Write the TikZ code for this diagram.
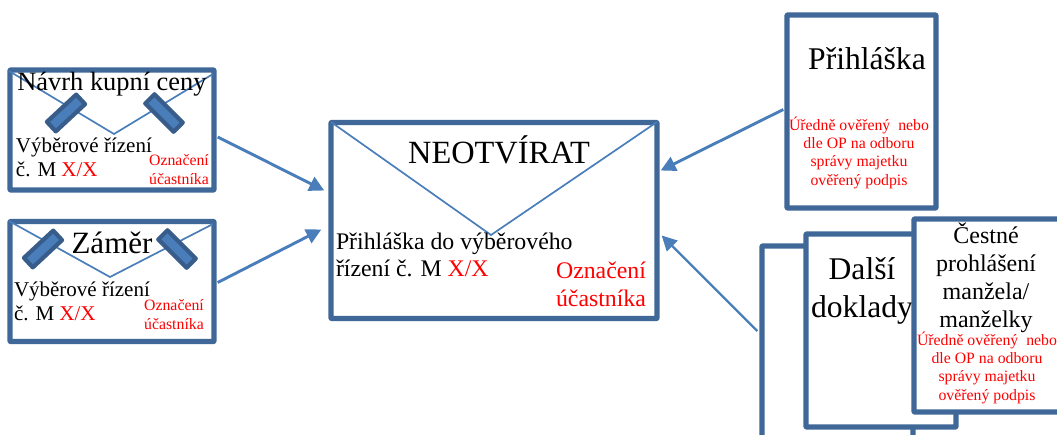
\documentclass[tikz,border=0pt]{standalone}
\usepackage{fontspec}
\setmainfont{Liberation Serif}
\usetikzlibrary{arrows.meta}
\definecolor{boxblue}{HTML}{3F6797}
\definecolor{lineblue}{HTML}{4A7EBB}
\definecolor{sealfill}{HTML}{4A7EBB}
\definecolor{sealline}{HTML}{385D8A}
\newcommand{\fs}[2]{\fontsize{#1pt}{#2pt}\selectfont}
\tikzset{
  x=1pt,y=-1pt,
  frame/.style={draw=boxblue,line width=5.4pt,fill=white,rectangle,inner sep=0pt,line join=round,rounded corners=0.6pt},
  flap/.style={draw=lineblue,line width=1.7pt},
  seal/.style={draw=sealline,fill=sealfill,line width=4.2pt,rectangle,inner sep=0pt,minimum width=40pt,minimum height=13pt,line join=round},
  arr/.style={draw=lineblue,line width=2.9pt,-{Triangle[length=15pt,width=15pt,fill=lineblue]}},
  txt/.style={inner sep=0pt,outer sep=0pt,text=black},
  red/.style={txt,text=red,align=center},
  small/.style={font=\fs{15.8}{18.3}},
}
\begin{document}
\begin{tikzpicture}
\useasboundingbox (0,0) rectangle (1057,434);
% left envelopes
\node[frame,minimum width=204pt,minimum height=120pt] (boxA) at (112,130) {};
\coordinate (aL) at (9,71); \coordinate (aV) at (114,134); \coordinate (aR) at (213,74);
\draw[flap] (aL) -- (aV) -- (aR);
\node[seal,rotate=43] (sealAL) at (66,113) {};
\node[seal,rotate=-45] (sealAR) at (164,113) {};
\node[txt,anchor=base,font=\fs{26.4}{26}] (tA) at (112,90) {Návrh kupní ceny};
\node[txt,anchor=base west,align=left,font=\fs{21}{24}] (subA) at (16,176) {Výběrové řízení\\č. M \textcolor{red}{X/X}};
\node[red,anchor=base,small] (markA) at (179,184) {Označení\\účastníka};

\node[frame,minimum width=204pt,minimum height=120pt] (boxB) at (112,281.5) {};
\coordinate (bL) at (9,221); \coordinate (bV) at (110,277); \coordinate (bR) at (213,224);
\draw[flap] (bL) -- (bV) -- (bR);
\node[seal,rotate=43] (sealBL) at (43,249) {};
\node[seal,rotate=-45] (sealBR) at (177,249) {};
\node[txt,anchor=base,font=\fs{31}{31}] (tB) at (112,253) {Záměr};
\node[txt,anchor=base west,align=left,font=\fs{21}{24}] (subB) at (14,320) {Výběrové řízení\\č. M \textcolor{red}{X/X}};
\node[red,anchor=base,small] (markB) at (174,329) {Označení\\účastníka};

% main envelope
\node[frame,minimum width=326pt,minimum height=196pt] (main) at (494,220.5) {};
\coordinate (mL) at (331,122); \coordinate (mV) at (491,235); \coordinate (mR) at (657,122);
\draw[flap] (mL) -- (mV) -- (mR);
\node[txt,anchor=base,font=\fs{32.4}{32}] (tM) at (499,163) {NEOTVÍRAT};
\node[txt,anchor=base west,align=left,font=\fs{23.8}{27}] (subM) at (336,276) {Přihláška do výběrového\\řízení č. M \textcolor{red}{X/X}};
\node[red,anchor=base,font=\fs{23.8}{28}] (markM) at (601,306) {Označení\\účastníka};

% right documents
\node[frame,minimum width=149pt,minimum height=193pt] (app) at (861.5,111.5) {};
\node[txt,anchor=base,font=\fs{31.6}{32}] (tApp) at (867,69) {Přihláška};
\node[red,anchor=base,small] (redApp) at (859,185) {Úředně ověřený\ \ nebo\\dle OP na odboru\\správy majetku\\ověřený podpis};

\node[frame,minimum width=151pt,minimum height=230pt] (back) at (837.5,361) {};
\node[frame,minimum width=150pt,minimum height=193pt] (other) at (881,330.5) {};
\node[txt,anchor=base,align=center,font=\fs{31.6}{38}] (tOther) at (862,317) {Další\\doklady};
\node[frame,minimum width=154pt,minimum height=193pt] (decl) at (991,315.5) {};
\node[txt,anchor=base,align=center,font=\fs{24}{28}] (tDecl) at (986,327) {Čestné\\prohlášení\\manžela/\\manželky};
\node[red,anchor=base,small] (redDecl) at (987,400) {Úředně ověřený\ \ nebo\\dle OP na odboru\\správy majetku\\ověřený podpis};

% arrows
\draw[arr] ([xshift=1pt,yshift=-7pt]boxA.east) -- ([xshift=-4pt,yshift=30pt]main.west);
\draw[arr] ([xshift=1pt,yshift=-1pt]boxB.east) -- ([xshift=-7pt,yshift=-9pt]main.west);
\draw[arr] ([xshift=-1pt,yshift=2pt]app.west) -- ([xshift=1pt,yshift=50pt]main.east);
\draw[arr,line width=2.2pt] ([xshift=-2pt,yshift=30pt]back.west) -- ([xshift=2pt,yshift=-15pt]main.east);
\end{tikzpicture}
\end{document}
